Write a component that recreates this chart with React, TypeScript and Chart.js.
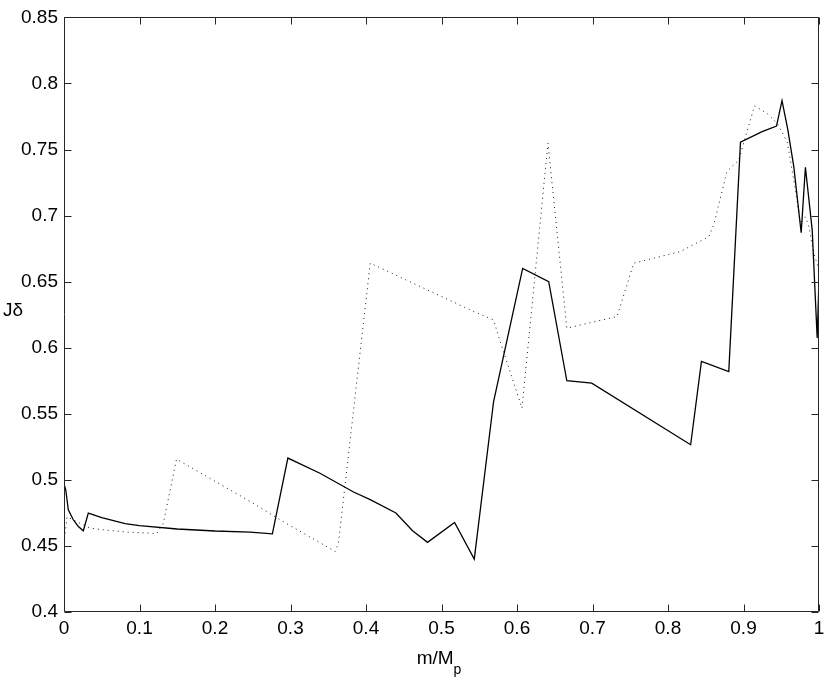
import { useEffect, useRef } from 'react';
import { Chart, registerables } from 'chart.js';

Chart.register(...registerables);

const solidX = [0, 0.0023, 0.0057, 0.0123, 0.019, 0.0256, 0.0322, 0.05, 0.081, 0.1, 0.15, 0.2, 0.2465, 0.276, 0.2965, 0.339, 0.3835, 0.4056, 0.4396, 0.4617, 0.4815, 0.5173, 0.5434, 0.569, 0.6075, 0.642, 0.666, 0.699, 0.83, 0.8443, 0.8805, 0.896, 0.9247, 0.9437, 0.951, 0.9587, 0.9666, 0.9764, 0.982, 0.991, 0.9976, 1.0];
const solidY = [0.497, 0.4925, 0.4774, 0.4698, 0.4647, 0.4615, 0.4749, 0.4715, 0.4668, 0.4653, 0.4628, 0.4613, 0.4605, 0.4592, 0.5165, 0.505, 0.4908, 0.485, 0.4749, 0.4615, 0.4527, 0.4678, 0.44, 0.5593, 0.66, 0.65, 0.575, 0.5732, 0.5266, 0.5896, 0.582, 0.7555, 0.7635, 0.7678, 0.787, 0.765, 0.737, 0.687, 0.7366, 0.689, 0.6073, 0.652];

const dottedX = [0, 0.004, 0.0345, 0.052, 0.083, 0.1229, 0.1316, 0.149, 0.2465, 0.2885, 0.3592, 0.3635, 0.4056, 0.5403, 0.569, 0.577, 0.6066, 0.641, 0.666, 0.7325, 0.7546, 0.8164, 0.854, 0.8606, 0.878, 0.8937, 0.9145, 0.931, 0.9445, 0.9578, 0.9688, 0.9755, 0.982, 0.9865, 0.993, 1.0];
const dottedY = [0.452, 0.472, 0.4635, 0.4622, 0.4605, 0.4594, 0.4673, 0.5157, 0.4837, 0.469, 0.4458, 0.452, 0.664, 0.628, 0.621, 0.606, 0.5543, 0.7548, 0.6148, 0.6236, 0.664, 0.6728, 0.6841, 0.693, 0.7333, 0.742, 0.783, 0.7775, 0.77, 0.756, 0.7194, 0.694, 0.699, 0.6917, 0.6716, 0.659];

const xTicks = [0, 0.1, 0.2, 0.3, 0.4, 0.5, 0.6, 0.7, 0.8, 0.9, 1];
const yTicks = [0.4, 0.45, 0.5, 0.55, 0.6, 0.65, 0.7, 0.75, 0.8, 0.85];
const xTickLabels = ['0', '0.1', '0.2', '0.3', '0.4', '0.5', '0.6', '0.7', '0.8', '0.9', '1'];
const yTickLabels = ['0.4', '0.45', '0.5', '0.55', '0.6', '0.65', '0.7', '0.75', '0.8', '0.85'];

const FONT = '"Liberation Sans", Arial, Helvetica, sans-serif';
const AXIS_COLOR = '#262626';

const framePlugin = {
  id: 'matlabFrame',
  afterDatasetsDraw(chart: any) {
    const { ctx, chartArea, scales } = chart;
    const L = Math.round(chartArea.left) + 0.5;
    const R = Math.round(chartArea.right) - 0.5;
    const T = Math.round(chartArea.top) + 0.5;
    const B = Math.round(chartArea.bottom) - 0.5;
    const tl = 7;
    ctx.save();
    ctx.strokeStyle = AXIS_COLOR;
    ctx.lineWidth = 1;
    ctx.beginPath();
    ctx.rect(L, T, R - L, B - T);
    for (const v of xTicks) {
      const px = Math.round(scales.x.getPixelForValue(v)) + 0.5;
      ctx.moveTo(px, B);
      ctx.lineTo(px, B - tl);
      ctx.moveTo(px, T);
      ctx.lineTo(px, T + tl);
    }
    for (const v of yTicks) {
      const py = Math.round(scales.y.getPixelForValue(v)) + 0.5;
      ctx.moveTo(L, py);
      ctx.lineTo(L + tl, py);
      ctx.moveTo(R, py);
      ctx.lineTo(R - tl, py);
    }
    ctx.stroke();
    ctx.restore();
  },
};

export default function App() {
  const canvasRef = useRef<HTMLCanvasElement | null>(null);

  useEffect(() => {
    if (!canvasRef.current) return;
    const chart = new Chart(canvasRef.current, {
      type: 'line',
      data: {
        datasets: [
          {
            label: 'solid',
            data: solidX.map((x, i) => ({ x, y: solidY[i] })),
            borderColor: '#000000',
            borderWidth: 1.3,
            pointRadius: 0,
            tension: 0,
            fill: false,
          },
          {
            label: 'dotted',
            data: dottedX.map((x, i) => ({ x, y: dottedY[i] })),
            borderColor: '#1a1a1a',
            borderWidth: 1,
            borderDash: [1, 4],
            pointRadius: 0,
            tension: 0,
            fill: false,
          },
        ],
      },
      options: {
        animation: false,
        responsive: false,
        events: [],
        layout: { padding: { top: 17, right: 11, left: 0, bottom: 0 } },
        plugins: {
          legend: { display: false },
          tooltip: { enabled: false },
        },
        scales: {
          x: {
            type: 'linear',
            min: 0,
            max: 1,
            afterBuildTicks: (scale: any) => {
              scale.ticks = xTicks.map((v) => ({ value: v }));
            },
            afterFit: (scale: any) => {
              scale.height = 66;
            },
            ticks: {
              autoSkip: false,
              maxRotation: 0,
              padding: 5,
              color: '#000',
              font: { family: FONT, size: 19 },
              callback: (_v: any, i: number) => xTickLabels[i],
            },
            grid: { display: false, drawTicks: false },
            border: { display: false },
          },
          y: {
            type: 'linear',
            min: 0.4,
            max: 0.85,
            afterBuildTicks: (scale: any) => {
              scale.ticks = yTicks.map((v) => ({ value: v }));
            },
            afterFit: (scale: any) => {
              scale.width = 64;
            },
            ticks: {
              autoSkip: false,
              padding: 6,
              color: '#000',
              font: { family: FONT, size: 19 },
              callback: (_v: any, i: number) => yTickLabels[i],
            },
            grid: { display: false, drawTicks: false },
            border: { display: false },
          },
        },
      },
      plugins: [framePlugin],
    } as any);
    return () => chart.destroy();
  }, []);

  return (
    <div style={{ position: 'absolute', left: 0, top: 0, width: 830, height: 678, background: '#fff' }}>
      <canvas ref={canvasRef} width={830} height={678} style={{ display: 'block', width: 830, height: 678 }} />
      <div
        style={{
          position: 'absolute',
          left: 3,
          top: 300,
          fontFamily: FONT,
          fontSize: 19,
          lineHeight: '19px',
          color: '#000',
          whiteSpace: 'nowrap',
        }}
      >
        Jδ
      </div>
      <div
        style={{
          position: 'absolute',
          left: 439,
          top: 648,
          transform: 'translateX(-50%)',
          fontFamily: FONT,
          fontSize: 19,
          lineHeight: '19px',
          color: '#000',
          whiteSpace: 'nowrap',
        }}
      >
        m/M
        <span style={{ fontSize: 14, position: 'relative', top: 10 }}>p</span>
      </div>
    </div>
  );
}
